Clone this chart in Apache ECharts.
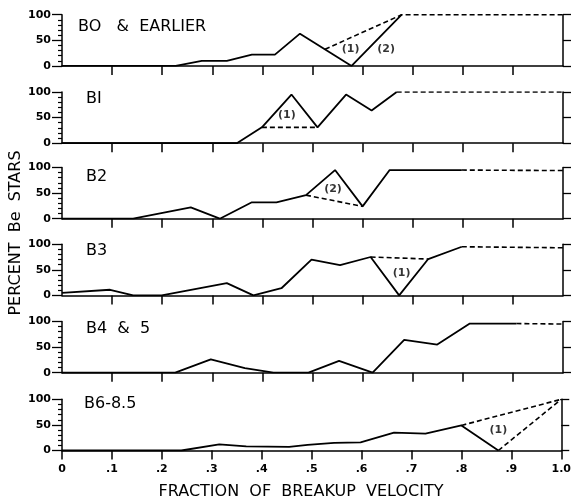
<!DOCTYPE html>
<html>
<head>
<meta charset="utf-8">
<script src="https://cdn.jsdelivr.net/npm/echarts@6/dist/echarts.min.js"></script>
<style>
html,body{margin:0;padding:0;background:#fff;}
#chart{width:574px;height:501px;}
</style>
</head>
<body>
<div id="chart"></div>
<script>
// ---------- DATA ----------
const panelNames = ['BO   &  EARLIER', 'BI', 'B2', 'B3', 'B4  &  5', 'B6-8.5'];
const xTickLabels = ['0', '.1', '.2', '.3', '.4', '.5', '.6', '.7', '.8', '.9', '1.0'];
const yTickValues = [0, 50, 100];
const xTitle = 'FRACTION  OF  BREAKUP  VELOCITY';
const yTitle = 'PERCENT  Be  STARS';

// Panel 1: B0 & earlier
const p1SolidX = [0, 0.227, 0.279, 0.329, 0.379, 0.425, 0.475, 0.578, 0.678];
const p1SolidY = [0, 0, 10, 10, 22, 22, 63, 0, 100];
const p1DashX = [[0.525, 0.678, 1.0]];
const p1DashY = [[32.5, 100, 100]];
// Panel 2: B1
const p2SolidX = [0, 0.349, 0.399, 0.458, 0.51, 0.567, 0.618, 0.668];
const p2SolidY = [0, 0, 31, 95, 31, 95, 64, 100];
const p2DashX = [[0.399, 0.51], [0.668, 1.0]];
const p2DashY = [[31, 31], [100, 100]];
// Panel 3: B2
const p3SolidX = [0, 0.142, 0.257, 0.315, 0.379, 0.428, 0.487, 0.545, 0.6, 0.654, 0.798];
const p3SolidY = [0, 0, 22, 0, 32, 32, 46, 95, 24, 95, 95];
const p3DashX = [[0.487, 0.6], [0.798, 1.0]];
const p3DashY = [[46, 24], [95, 94]];
// Panel 4: B3
const p4SolidX = [0, 0.096, 0.142, 0.199, 0.329, 0.382, 0.438, 0.498, 0.555, 0.616, 0.673, 0.731, 0.798];
const p4SolidY = [5, 11, 0, 0, 24, 0, 14, 70, 59, 75, 0, 71, 95];
const p4DashX = [[0.616, 0.731], [0.798, 1.0]];
const p4DashY = [[75, 71], [95, 93]];
// Panel 5: B4 & 5
const p5SolidX = [0, 0.226, 0.297, 0.365, 0.422, 0.492, 0.553, 0.62, 0.683, 0.749, 0.814, 0.907];
const p5SolidY = [0, 0, 26, 9, 0, 0, 23, 0, 64, 55, 96, 96];
const p5DashX = [[0.907, 1.0]];
const p5DashY = [[96, 95]];
// Panel 6: B6-8.5
const p6SolidX = [0, 0.239, 0.315, 0.369, 0.455, 0.492, 0.545, 0.598, 0.665, 0.728, 0.8, 0.874];
const p6SolidY = [0, 0, 12, 8, 7, 11, 15, 16, 35, 33, 49, 0];
const p6DashX = [[0.8, 1.0], [0.874, 1.0]];
const p6DashY = [[49, 100], [0, 100]];

// Annotations "(1)" / "(2)"
const notePanel = [0, 0, 1, 2, 3, 5];
const noteX = [0.576, 0.647, 0.449, 0.541, 0.678, 0.874];
const noteY = [33, 33, 55, 58, 43, 39];
const noteText = ['(1)', '(2)', '(1)', '(2)', '(1)', '(1)'];

// ---------- BUILD ----------
const solids = [[p1SolidX, p1SolidY], [p2SolidX, p2SolidY], [p3SolidX, p3SolidY],
                [p4SolidX, p4SolidY], [p5SolidX, p5SolidY], [p6SolidX, p6SolidY]];
const dashes = [[p1DashX, p1DashY], [p2DashX, p2DashY], [p3DashX, p3DashY],
                [p4DashX, p4DashY], [p5DashX, p5DashY], [p6DashX, p6DashY]];

const FONT = 'DejaVu Sans';
const gridTops = [14.7, 92, 167.5, 244.2, 321.5, 399.3];
const gridH = 51.2;
const gridLeft = 62, gridRight = 11;
const labelOffsets = [[16, 4], [24, -1], [24, 1], [24, -1], [24, -1], [22, -3]];

const grids = [], xAxes = [], yAxes = [], series = [], graphics = [];
const innerTicks = [0.1, 0.2, 0.3, 0.4, 0.5, 0.6, 0.7, 0.8, 0.9];

for (let i = 0; i < 6; i++) {
  const bottom = i === 5;
  grids.push({ left: gridLeft, right: gridRight, top: gridTops[i], height: gridH });
  xAxes.push({
    gridIndex: i, type: 'value', min: 0, max: 1, interval: 0.1,
    axisLine: { show: true, onZero: false, lineStyle: { color: '#000', width: 1.5 } },
    axisTick: bottom ? { show: true, inside: false, length: 9, lineStyle: { color: '#000', width: 1.5 } }
                     : { show: true, inside: false, length: 9, customValues: innerTicks, lineStyle: { color: '#000', width: 1.5 } },
    axisLabel: {
      show: bottom, color: '#000', fontFamily: FONT, fontSize: 11, fontWeight: 'bold', margin: 13,
      formatter: v => xTickLabels[Math.round(v * 10)]
    },
    splitLine: { show: false }
  });
  yAxes.push({
    gridIndex: i, type: 'value', min: 0, max: 100, interval: 50, position: 'left',
    axisLine: { show: true, lineStyle: { color: '#000', width: 1.5 } },
    axisTick: { show: true, inside: false, length: 10, lineStyle: { color: '#000', width: 1.3 } },
    minorTick: { show: true, splitNumber: 5, length: 4, lineStyle: { color: '#000', width: 1.2 } },
    axisLabel: {
      color: '#000', fontFamily: FONT, fontSize: 11, fontWeight: 'bold', margin: 11,
      customValues: yTickValues
    },
    splitLine: { show: false }
  });
  yAxes.push({
    gridIndex: i, type: 'value', min: 0, max: 100, interval: 50, position: 'right',
    axisLine: { show: true, lineStyle: { color: '#000', width: 1.5 } },
    axisTick: { show: true, inside: false, length: 8, lineStyle: { color: '#000', width: 1.3 } },
    axisLabel: { show: false },
    splitLine: { show: false }
  });

  const [sx, sy] = solids[i];
  series.push({
    type: 'line', xAxisIndex: i, yAxisIndex: i * 2, symbol: 'none', silent: true,
    data: sx.map((x, k) => [x, sy[k]]),
    lineStyle: { color: '#000', width: 1.8 }, z: 3
  });
  const [dx, dy] = dashes[i];
  dx.forEach((segX, s) => {
    series.push({
      type: 'line', xAxisIndex: i, yAxisIndex: i * 2, symbol: 'none', silent: true,
      data: segX.map((x, k) => [x, dy[s][k]]),
      lineStyle: { color: '#000', width: 1.6, type: [5, 3] }, z: 2
    });
  });

  graphics.push({
    type: 'text', x: gridLeft + labelOffsets[i][0], y: gridTops[i] + labelOffsets[i][1],
    style: { text: panelNames[i], fill: '#000', font: '16px "' + FONT + '"' }
  });
}

// annotations
for (let p = 0; p < 6; p++) {
  const pts = [];
  notePanel.forEach((np, k) => { if (np === p) pts.push({ value: [noteX[k], noteY[k]], text: noteText[k] }); });
  if (pts.length) {
    series.push({
      type: 'scatter', xAxisIndex: p, yAxisIndex: p * 2, symbolSize: 0, silent: true,
      data: pts,
      label: { show: true, position: 'inside', formatter: d => d.data.text,
               color: '#000', fontFamily: FONT, fontSize: 11, fontWeight: 'bold' }
    });
  }
}

graphics.push({
  type: 'text', x: 301, y: 484,
  style: { text: xTitle, fill: '#000', font: '16px "' + FONT + '"', align: 'center', verticalAlign: 'top' }
});
graphics.push({
  type: 'text', x: 8, y: 233, rotation: Math.PI / 2,
  style: { text: yTitle, fill: '#000', font: '16px "' + FONT + '"', align: 'center', verticalAlign: 'top' },
  originX: 0, originY: 0
});

const chart = echarts.init(document.getElementById('chart'), null, { renderer: 'canvas' });
chart.setOption({
  animation: false,
  backgroundColor: '#fff',
  grid: grids, xAxis: xAxes, yAxis: yAxes, series: series, graphic: graphics
});
</script>
</body>
</html>
